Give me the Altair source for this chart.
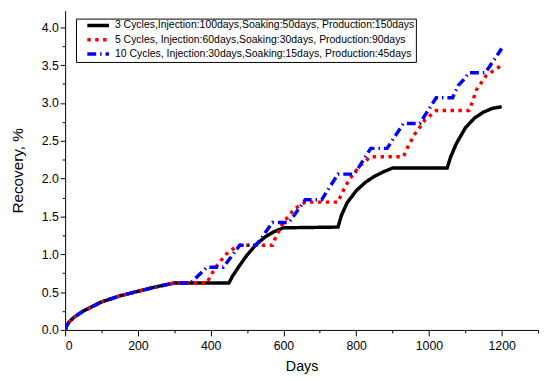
import altair as alt
import pandas as pd

FONT = "Liberation Sans"

series_names = [
    "3 Cycles,Injection:100days,Soaking:50days, Production:150days",
    "5 Cycles, Injection:60days,Soaking:30days, Production:90days",
    "10 Cycles, Injection:30days,Soaking:15days, Production:45days",
]
series_colors = ["#000000", "#ff0000", "#0000ff"]

# shared primary-production curve (all three series coincide)
init_days = [0, 5, 10, 25, 50, 75, 100, 150, 200, 250, 300]
init_vals = [0.0, 0.06, 0.10, 0.17, 0.25, 0.31, 0.37, 0.45, 0.51, 0.57, 0.62]

c3_days = [450, 460, 475, 500, 525, 550, 575, 600,
           750, 760, 775, 800, 825, 850, 875, 900,
           1050, 1060, 1075, 1100, 1125, 1150, 1175, 1200]
c3_vals = [0.62, 0.71, 0.82, 0.99, 1.13, 1.23, 1.30, 1.35,
           1.36, 1.52, 1.68, 1.84, 1.95, 2.03, 2.09, 2.14,
           2.14, 2.29, 2.46, 2.67, 2.80, 2.88, 2.93, 2.95]

c5_days = [390, 400, 420, 450, 480, 570, 580, 600, 630, 660,
           750, 760, 780, 810, 840, 930, 940, 960, 990, 1020,
           1110, 1120, 1130, 1157, 1200]
c5_vals = [0.62, 0.72, 0.87, 1.04, 1.12, 1.12, 1.24, 1.42, 1.60, 1.69,
           1.69, 1.80, 1.98, 2.17, 2.29, 2.29, 2.40, 2.58, 2.78, 2.90,
           2.90, 3.02, 3.17, 3.36, 3.50]

c10_days = [345, 390, 435, 480, 525, 570, 615, 660, 705, 750,
            795, 840, 885, 930, 975, 1020, 1065, 1080, 1094, 1110,
            1155, 1200]
c10_vals = [0.62, 0.83, 0.83, 1.12, 1.12, 1.42, 1.42, 1.72, 1.72, 2.06,
            2.06, 2.40, 2.40, 2.73, 2.73, 3.07, 3.07, 3.23, 3.30, 3.40,
            3.40, 3.72]

x_major = [0, 200, 400, 600, 800, 1000, 1200]
x_minor = [100, 300, 500, 700, 900, 1100, 1300]
y_major = [0.0, 0.5, 1.0, 1.5, 2.0, 2.5, 3.0, 3.5, 4.0]
y_minor = [0.25, 0.75, 1.25, 1.75, 2.25, 2.75, 3.25, 3.75, 4.25]

rows = []
for name, days, vals in zip(series_names,
                            [c3_days, c5_days, c10_days],
                            [c3_vals, c5_vals, c10_vals]):
    for i, (d, v) in enumerate(zip(init_days + days, init_vals + vals)):
        rows.append({"series": name, "day": d, "rec": v, "order": i})
df = pd.DataFrame(rows)

xscale = alt.Scale(domain=[0, 1300], nice=False, zero=True)
yscale = alt.Scale(domain=[0, 4.22], nice=False, zero=True)
cscale = alt.Scale(domain=series_names, range=series_colors)
dscale = alt.Scale(domain=series_names, range=[[1, 0], [3.5, 4.5], [9, 4, 1.5, 4]])

x_axis_main = alt.Axis(values=x_major, format="d", tickSize=6, labelPadding=4, title="Days",
                       titleFontSize=14.5, titleFontWeight="normal", titlePadding=8,
                       labelFontSize=12.5, grid=False, orient="bottom")
y_axis_main = alt.Axis(values=y_major, format=".1f", tickSize=5, labelPadding=2,
                       title="Recovery, %", titleFontSize=15.5, titleFontWeight="normal",
                       titleX=-40, titleY=162, labelFontSize=12.5, grid=False, orient="left")


def line_layer(name, width, show_axis):
    xa = x_axis_main if show_axis else None
    ya = y_axis_main if show_axis else None
    return alt.Chart(df).transform_filter(
        alt.datum.series == name
    ).mark_line(strokeWidth=width, clip=True).encode(
        x=alt.X("day:Q", scale=xscale, axis=xa),
        y=alt.Y("rec:Q", scale=yscale, axis=ya),
        color=alt.Color("series:N", scale=cscale, sort=series_names, title=None),
        strokeDash=alt.StrokeDash("series:N", scale=dscale, sort=series_names, title=None),
        order="order:Q",
    )


minor = alt.Chart(df).mark_point(opacity=0).encode(
    x=alt.X("day:Q", scale=xscale,
            axis=alt.Axis(values=x_minor, tickSize=3, labels=False, domain=False,
                          title=None, grid=False, orient="bottom")),
    y=alt.Y("rec:Q", scale=yscale,
            axis=alt.Axis(values=y_minor, tickSize=3, labels=False, domain=False,
                          title=None, grid=False, orient="left")),
)

chart = alt.layer(
    line_layer(series_names[0], 3.5, True),
    line_layer(series_names[1], 3.5, False),
    line_layer(series_names[2], 3.5, False),
    minor,
).resolve_axis(x="independent", y="independent").properties(
    width=480,
    height=324,
    autosize=alt.AutoSizeParams(type="none"),
    padding={"left": 58, "top": 0, "right": 4, "bottom": 45},
).configure_view(stroke=None).configure_axis(
    labelFont=FONT, titleFont=FONT, labelColor="black", titleColor="black",
    domainColor="black", tickColor="black", domainWidth=1, tickWidth=1,
).configure_legend(
    orient="none", legendX=11, legendY=8, padding=1,
    strokeColor="black", fillColor="white",
    symbolType="M-2.588,0H2.588", symbolSize=72.25, symbolStrokeWidth=3.5,
    symbolOffset=15.5, labelOffset=11,
    labelFont=FONT, labelFontSize=10.6, labelLimit=500, labelColor="black",
    rowPadding=0.5,
)

chart.save("out.html", embed_options={"renderer": "svg", "actions": False})
